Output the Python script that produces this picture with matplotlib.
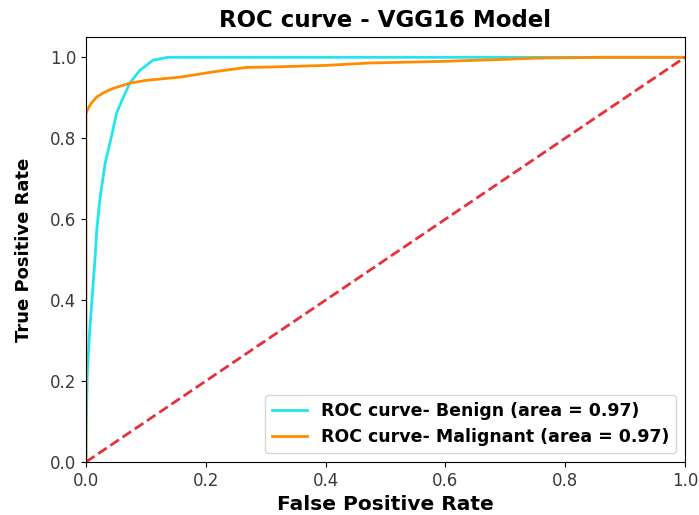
import matplotlib
matplotlib.use("Agg")
import matplotlib.pyplot as plt

# ROC points per class (false positive rate, true positive rate)
benign_fpr = [0.0, 0.0, 0.002, 0.006, 0.010, 0.015, 0.018, 0.023, 0.032, 0.045,
              0.051, 0.062, 0.073, 0.090, 0.112, 0.137, 0.30, 0.60, 1.0]
benign_tpr = [0.0, 0.05, 0.21, 0.32, 0.40, 0.50, 0.573, 0.647, 0.738, 0.82,
              0.862, 0.90, 0.936, 0.968, 0.993, 1.0, 1.0, 1.0, 1.0]

malignant_fpr = [0.0, 0.0, 0.002, 0.008, 0.018, 0.030, 0.045, 0.073, 0.100, 0.157,
                 0.212, 0.268, 0.307, 0.400, 0.474, 0.596, 0.680, 0.753, 0.863, 1.0]
malignant_tpr = [0.0, 0.86, 0.869, 0.885, 0.902, 0.913, 0.923, 0.936, 0.943, 0.951,
                 0.964, 0.975, 0.976, 0.980, 0.986, 0.990, 0.994, 0.998, 1.0, 1.0]

benign_auc = 0.97
malignant_auc = 0.97

fig = plt.figure(figsize=(6.99, 5.15), dpi=100)
ax = fig.add_axes([0.123, 0.103, 0.857, 0.825])

ax.plot(benign_fpr, benign_tpr, color="#22e5ee", lw=2,
        label=f"ROC curve- Benign (area = {benign_auc:0.2f})")
ax.plot(malignant_fpr, malignant_tpr, color="darkorange", lw=2,
        label=f"ROC curve- Malignant (area = {malignant_auc:0.2f})")
ax.plot([0, 1], [0, 1], color="#e8303a", lw=2, linestyle="--")

ax.set_xlim([0.0, 1.0])
ax.set_ylim([0.0, 1.05])
ax.tick_params(labelsize=12, labelcolor="#3a3a3a")
ax.set_xlabel("False Positive Rate", fontsize=14.5, fontweight="bold")
ax.set_ylabel("True Positive Rate", fontsize=13, fontweight="bold", labelpad=12)
ax.set_title("ROC curve - VGG16 Model", fontsize=16.5, fontweight="bold", pad=7)
ax.legend(loc="lower right", prop={"size": 12.5, "weight": "bold"})

fig.savefig("out.png", dpi=100)
